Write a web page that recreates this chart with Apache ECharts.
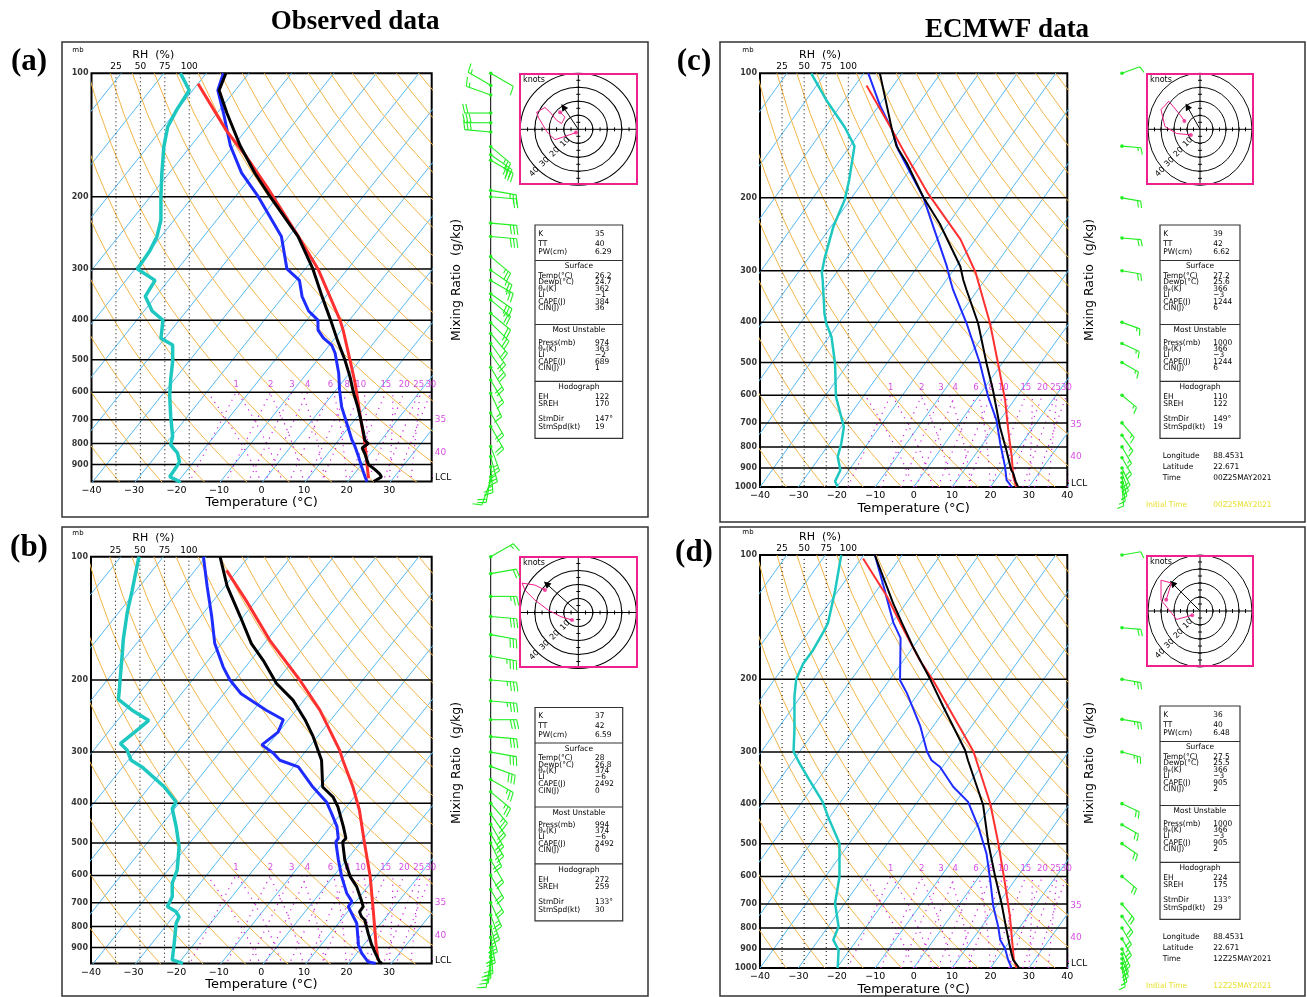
<!DOCTYPE html>
<html>
<head>
<meta charset="utf-8">
<script src="https://cdn.jsdelivr.net/npm/echarts@6/dist/echarts.min.js"></script>
<style>
  html, body { margin: 0; padding: 0; background: #fff; }
  #main { width: 1307px; height: 997px; }
</style>
</head>
<body>
<div id="main"></div>
<script>
// ---- shared chart constants ----
const SKEW = 77;          // isotherm skew, degC per decade of pressure
const RH_MAX = 348;       // RH (%) spanned by the full plot width
const obsPressLabels = [100, 200, 300, 400, 500, 600, 700, 800, 900];
const ecPressLabels = [100, 200, 300, 400, 500, 600, 700, 800, 900, 1000];
const mixRatios = [1, 2, 3, 4, 6, 8, 10, 15, 20, 25, 30];
const wetBulbThetas = [0, 5, 10, 15, 20, 25, 30, 35, 40];
const isobars = [200, 300, 400, 500, 600, 700, 800, 900];
const idxLabels = ['K', 'TT', 'PW(cm)', 'Temp(°C)', 'Dewp(°C)', 'θₑ(K)', 'LI', 'CAPE(J)', 'CIN(J)',
  'Press(mb)', 'θₑ(K)', 'LI', 'CAPE(J)', 'CIN(J)', 'EH', 'SREH', 'StmDir', 'StmSpd(kt)'];

// ---- (a) observed 00Z ----
const aTempP = [100, 110, 125, 150, 175, 200, 250, 300, 350, 400, 450, 500, 550, 600, 650, 700, 750, 785, 800, 820, 850, 900, 925, 950, 965, 990];
const aTemp = [-85.4, -83.8, -77.7, -68.5, -59.9, -51.8, -37.8, -28.2, -20.9, -14.4, -8.8, -3.6, 0.8, 4.5, 8.2, 11.4, 14.3, 16.2, 17.6, 17.0, 18.9, 21.6, 24.0, 26.1, 27.0, 26.0];
const aDewP = [100, 110, 125, 150, 175, 200, 250, 300, 320, 350, 380, 400, 423, 442, 460, 481, 538, 592, 650, 713, 784, 814, 861, 911, 964, 991];
const aDew = [-86, -84.1, -78.5, -70.8, -63.0, -54.6, -41.7, -34.3, -29.2, -25.6, -21.3, -17.4, -15.5, -12.8, -9.5, -7.2, -2.6, 0.8, 4.4, 8.7, 13.1, 15.1, 17.8, 20.4, 23.1, 24.5];
const aParcelP = [106, 138, 160, 189, 253, 300, 400, 423, 500, 570, 638, 714, 799, 894, 972];
const aParcel = [-90, -74.5, -64.8, -54.5, -37.0, -27.0, -12.2, -9.6, -2.4, 3.2, 7.7, 12.2, 16.8, 21.0, 24.2];
const aRhP = [100, 110, 123, 135, 151, 175, 200, 228, 250, 270, 300, 320, 350, 380, 400, 423, 443, 460, 504, 558, 612, 686, 769, 806, 844, 887, 911, 964, 982, 995];
const aRh = [91, 100, 87, 78, 74, 72, 71, 71, 67, 60, 47, 65, 55, 62, 73, 72, 71, 83, 83, 81, 80, 81, 83, 81, 88, 90, 87, 80, 87, 91];
const aWindP = [100, 107, 113, 125, 132, 139, 151, 158, 163, 193, 200, 232, 250, 280, 302, 320, 345, 357, 385, 406, 431, 456, 483, 521, 560, 603, 674, 727, 813, 861, 911, 964, 985];
const aWindDir = [120, 300, 290, 270, 270, 275, 130, 125, 120, 100, 95, 95, 95, 130, 125, 120, 125, 130, 130, 135, 140, 145, 145, 150, 150, 155, 150, 150, 160, 165, 175, 190, 200];
const aWindSpd = [10, 15, 15, 20, 30, 30, 25, 30, 30, 25, 20, 30, 30, 25, 25, 25, 30, 25, 20, 25, 20, 20, 20, 20, 15, 15, 20, 20, 25, 25, 25, 20, 10];
const aHodoU = [-1.6, -9.2, -16.1, -21.8, -27.6, -28.7, -23.0, -19.5, -14.9, -11.5, -9.2, -12.6];
const aHodoV = [-2.3, -5.1, -7.4, -1.6, 8.7, 12.2, 15.6, 12.2, 6.4, 4.1, 8.7, 12.2];
const aIdx = ['35', '40', '6.29', '26.2', '24.7', '362', '−1', '384', '36', '974', '363', '−2', '689', '1', '122', '170', '147°', '19'];
const aStorm = [147, 19];

// ---- (b) observed 12Z ----
const bTempP = [100, 118, 140, 163, 179, 204, 224, 250, 275, 314, 365, 386, 408, 456, 487, 497, 550, 604, 639, 689, 715, 736, 757, 771, 831, 887, 929, 975, 984];
const bTemp = [-86.7, -79.5, -70.7, -63.0, -57.1, -49.6, -42.6, -36.1, -31.0, -24.6, -19.3, -15.0, -12.0, -7.0, -4.2, -4.3, -0.4, 4.0, 7.4, 11.0, 12.7, 12.8, 14.2, 15.6, 18.9, 21.9, 24.3, 26.9, 27.8];
const bDewP = [100, 118, 140, 163, 186, 200, 216, 237, 250, 268, 288, 302, 314, 326, 365, 397, 423, 456, 487, 497, 550, 604, 663, 695, 715, 757, 785, 887, 929, 975, 984];
const bDew = [-90.6, -84.2, -77.4, -71.6, -65.2, -61.2, -56.0, -47.0, -41.2, -40.1, -41.5, -37.2, -34.4, -28.8, -21.6, -15.6, -12.3, -8.5, -6.0, -5.9, -1.9, 2.0, 6.3, 9.1, 9.2, 12.3, 14.3, 18.8, 21.1, 24.2, 26.3];
const bParcelP = [108, 128, 160, 200, 237, 297, 314, 365, 416, 502, 604, 729, 879, 965];
const bParcel = [-82.6, -72.3, -59.3, -44.8, -34.4, -22.2, -19.6, -12.2, -6.3, 1.2, 8.7, 15.7, 22.6, 26.2];
const bRhP = [100, 121, 137, 159, 172, 196, 211, 223, 237, 251, 263, 286, 297, 314, 326, 365, 397, 412, 456, 511, 582, 627, 676, 715, 736, 757, 785, 879, 965, 984];
const bRh = [49, 42, 37, 33, 32, 30, 29, 28, 42, 59, 49, 30, 37, 41, 52, 75, 87, 83, 87, 90, 88, 83, 83, 78, 87, 90, 87, 85, 83, 94];
const bWindP = [100, 110, 125, 140, 155, 175, 200, 225, 250, 275, 300, 325, 350, 375, 400, 425, 450, 475, 500, 550, 600, 650, 700, 750, 800, 850, 900, 925, 950, 975];
const bWindDir = [60, 80, 90, 95, 100, 100, 95, 95, 90, 95, 100, 110, 120, 130, 140, 145, 150, 150, 155, 150, 150, 150, 155, 160, 165, 170, 175, 180, 185, 190];
const bWindSpd = [15, 20, 25, 30, 30, 35, 35, 35, 30, 30, 30, 30, 25, 25, 25, 25, 25, 20, 20, 20, 20, 20, 25, 25, 25, 25, 20, 20, 15, 10];
const bHodoU = [-4.3, -12, -20.9, -29.9, -36.8, -38.8, -29.9, -23];
const bHodoV = [-5.4, -3, 1.8, 8.9, 16, 21, 19.6, 16];
const bIdx = ['37', '42', '6.59', '28', '26.8', '374', '−6', '2492', '0', '994', '374', '−6', '2492', '0', '272', '259', '133°', '30'];
const bStorm = [133, 30];

// ---- (c) ECMWF 00Z ----
const cTempP = [100, 137, 150, 165, 199, 231, 293, 316, 334, 402, 503, 583, 716, 815, 911, 927, 969, 1000];
const cTemp = [-85.8, -72.1, -67.9, -62.0, -51.5, -42.2, -28.9, -25.6, -22.9, -13.7, -4.0, 2.6, 11.3, 17.3, 22.3, 23.4, 25.5, 27.2];
const cDewP = [100, 120, 137, 153, 192, 199, 235, 293, 316, 334, 402, 503, 605, 689, 784, 893, 962, 1000];
const cDew = [-88.8, -79.6, -72.1, -66.8, -53.6, -51.5, -43.3, -32.4, -29.0, -26.4, -16.7, -5.7, 2.6, 9.1, 14.4, 20.0, 22.9, 25.6];
const cParcelP = [107, 137, 159, 194, 252, 303, 402, 503, 616, 728, 845, 944, 1000];
const cParcel = [-87.0, -72.1, -63.3, -51.3, -33.9, -23.8, -10.6, -1.0, 7.6, 14.0, 19.9, 24.0, 26.7];
const cRhP = [100, 116, 135, 150, 181, 202, 235, 281, 303, 316, 381, 402, 434, 503, 605, 677, 716, 786, 845, 911, 969, 1000];
const cRh = [58, 75, 96, 107, 101, 96, 83, 73, 70, 71, 73, 75, 81, 85, 86, 92, 95, 92, 88, 91, 85, 88];
const cWindP = [100, 150, 200, 250, 300, 400, 450, 500, 600, 700, 750, 800, 850, 900, 925, 950, 975, 1000];
const cWindDir = [70, 95, 100, 95, 100, 110, 115, 120, 130, 140, 145, 150, 150, 155, 160, 165, 170, 175];
const cWindSpd = [10, 15, 20, 20, 20, 15, 15, 15, 15, 15, 15, 15, 20, 20, 20, 15, 15, 10];
const cHodoU = [-7, -18, -27, -30, -24, -15, -12];
const cHodoV = [-4, -3, 2, 14, 20, 10, 6];
const cIdx = ['39', '42', '6.62', '27.2', '25.6', '366', '−3', '1244', '6', '1000', '366', '−3', '1244', '6', '110', '122', '149°', '19'];
const cStorm = [149, 19];
const cGeo = ['88.4531', '22.671', '00Z25MAY2021'];

// ---- (d) ECMWF 12Z ----
const dTempP = [100, 131, 146, 167, 200, 233, 297, 314, 403, 499, 601, 697, 809, 905, 956, 1000];
const dTemp = [-87.1, -73.3, -67.4, -60.0, -49.5, -41.0, -27.2, -24.6, -12.3, -3.8, 4.2, 10.8, 17.1, 21.9, 24.4, 27.5];
const dDewP = [100, 119, 146, 159, 201, 216, 260, 299, 314, 326, 364, 396, 455, 528, 612, 710, 794, 855, 896, 956, 1000];
const dDew = [-87.1, -79.0, -69.6, -64.9, -57.2, -53.0, -43.3, -36.9, -34.1, -30.6, -23.5, -16.8, -9.5, -2.4, 3.5, 9.3, 14.3, 17.3, 20.1, 23.1, 25.5];
const dParcelP = [102, 126, 149, 180, 201, 246, 299, 399, 499, 624, 751, 888, 956, 1000];
const dParcel = [-89.5, -76.2, -66.7, -55.7, -48.6, -36.5, -24.8, -10.8, -1.2, 8.0, 15.5, 21.8, 24.6, 26.8];
const dRhP = [100, 122, 146, 152, 170, 183, 200, 220, 265, 299, 314, 320, 351, 396, 430, 499, 601, 697, 794, 855, 905, 1000];
const dRh = [92, 85, 77, 73, 60, 49, 41, 39, 39, 38, 43, 45, 56, 71, 77, 90, 90, 85, 89, 83, 89, 88];
const dWindP = [100, 150, 200, 250, 300, 400, 450, 500, 600, 700, 750, 800, 850, 900, 925, 950, 975, 1000];
const dWindDir = [80, 95, 100, 100, 105, 115, 120, 125, 130, 140, 145, 150, 150, 155, 160, 160, 165, 170];
const dWindSpd = [10, 20, 25, 25, 25, 20, 20, 20, 20, 20, 20, 20, 25, 25, 20, 20, 15, 15];
const dHodoU = [-6, -18, -30, -30, -22, -26];
const dHodoV = [-3, -6, 8, 22, 20, 8];
const dIdx = ['36', '40', '6.48', '27.5', '25.5', '366', '−3', '905', '2', '1000', '366', '−3', '905', '2', '224', '175', '133°', '29'];
const dStorm = [133, 29];
const dGeo = ['88.4531', '22.671', '12Z25MAY2021'];

// ---- helpers ----
const FONT = '"DejaVu Sans", sans-serif';
const C_ISO = '#55b8f2', C_DRY = '#f3b548', C_MIX = '#cc22dd', C_GREEN = '#22ee22', C_PINK = '#f0208c';

function skewX(t, p) { return t + SKEW * Math.log10(1000 / p); }
function dryT(theta, p) { return theta * Math.pow(p / 1000, 0.2857) - 273.15; }
function dewFromMix(w, p) { const e = w * p / (622 + w); const l = Math.log(e / 6.112); return 243.5 * l / (17.67 - l); }
function profile(ps, ts) { return ps.map((p, i) => [skewX(ts[i], p), p]); }
// saturated (pseudo-adiabatic) lapse rate dT/dp in K per hPa
function moistLapse(T, p) {
  const es = 6.112 * Math.exp(17.67 * (T - 273.15) / (T - 29.65));
  const rs = 0.622 * es / (p - es);
  return ((287 * T + 2.5e6 * rs) / p) / (1004 + 2.5e6 * 2.5e6 * rs * 0.622 / (287 * T * T));
}
function moistAdiabat(tw, pTop) {
  const pts = [[skewX(tw, 1000), 1000]];
  let T = tw + 273.15;
  for (let p = 1000; p > pTop;) {
    const dp = -10;
    const k1 = moistLapse(T, p);
    const k2 = moistLapse(T + k1 * dp / 2, p + dp / 2);
    T += k2 * dp; p += dp;
    if (p % 20 === 0) pts.push([skewX(T - 273.15, p), p]);
  }
  return pts;
}
const BREAK = ['-', '-'];

const PANELS = [
  { P: [aTempP, aTemp, aDewP, aDew, aParcelP, aParcel, aRhP, aRh], W: [aWindP, aWindDir, aWindSpd], H: [aHodoU, aHodoV], idx: aIdx, storm: aStorm,
    left: 91.5, top: 73.3, width: 340.2, height: 408.2, pBottom: 990, show40: false, pLabels: obsPressLabels, nameGap: 14,
    frame: [62, 42, 586, 475], tag: ['(a)', 29, 62], barbX: 490.7, barbLine: true, barbLen: 26,
    hodo: { cx: 578.3, cy: 129.3, rx: 58, ry: 56, box: [520, 74, 117, 110] },
    box: { x: 535, y: 225, w: 87.7, valDx: 60 }, mixTitle: [457, 280], mb: [78, 55], rhTitle: [153.3, 55],
    lcl: 970, lw: 3, ml: [700, 840] },
  { P: [bTempP, bTemp, bDewP, bDew, bParcelP, bParcel, bRhP, bRh], W: [bWindP, bWindDir, bWindSpd], H: [bHodoU, bHodoV], idx: bIdx, storm: bStorm,
    left: 91, top: 556.7, width: 340.7, height: 406.9, pBottom: 985, show40: false, pLabels: obsPressLabels, nameGap: 14,
    frame: [62, 527, 586, 469], tag: ['(b)', 29, 548], barbX: 490.7, barbLine: true, barbLen: 26,
    hodo: { cx: 578.3, cy: 612.5, rx: 58, ry: 56, box: [520, 557, 117, 110] },
    box: { x: 535, y: 707.5, w: 87.7, valDx: 60 }, mixTitle: [457, 763], mb: [78, 538], rhTitle: [153.3, 538],
    lcl: 971, lw: 3, ml: [700, 840] },
  { P: [cTempP, cTemp, cDewP, cDew, cParcelP, cParcel, cRhP, cRh], W: [cWindP, cWindDir, cWindSpd], H: [cHodoU, cHodoV], idx: cIdx, storm: cStorm, geo: cGeo,
    left: 760, top: 73.3, width: 307.3, height: 413.7, pBottom: 1000, show40: true, pLabels: ecPressLabels, nameGap: 15,
    frame: [720, 42, 585, 480], tag: ['(c)', 694, 62], barbX: 1122, barbLine: false, barbLen: 19,
    hodo: { cx: 1200, cy: 129.3, rx: 52, ry: 56, box: [1147, 74, 106, 110] },
    box: { x: 1160, y: 225, w: 80, valDx: 53.3 }, mixTitle: [1090, 280], mb: [748, 55], rhTitle: [820, 55],
    lcl: 979, lw: 2, ml: [708, 845], geoY: 456, initY: 505 },
  { P: [dTempP, dTemp, dDewP, dDew, dParcelP, dParcel, dRhP, dRh], W: [dWindP, dWindDir, dWindSpd], H: [dHodoU, dHodoV], idx: dIdx, storm: dStorm, geo: dGeo,
    left: 760, top: 555, width: 307.3, height: 413, pBottom: 1000, show40: true, pLabels: ecPressLabels, nameGap: 15,
    frame: [720, 527, 585, 469], tag: ['(d)', 694, 553], barbX: 1122, barbLine: false, barbLen: 19,
    hodo: { cx: 1200, cy: 611, rx: 52, ry: 56, box: [1147, 556, 106, 110] },
    box: { x: 1160, y: 706, w: 80, valDx: 53.3 }, mixTitle: [1090, 763], mb: [748, 537], rhTitle: [820, 537],
    lcl: 974, lw: 2, ml: [708, 845], geoY: 937, initY: 986 }
];

const option = { animation: false, backgroundColor: '#fff', grid: [], xAxis: [], yAxis: [], series: [], graphic: [] };
const G = option.graphic;

function txt(text, x, y, font, fill, align, extra) {
  G.push(Object.assign({ type: 'text', x: x, y: y, silent: true,
    style: { text: text, font: font, fill: fill || '#000', align: align || 'left', verticalAlign: 'middle' } }, extra || {}));
}
function seg(x1, y1, x2, y2, color, w) {
  G.push({ type: 'line', silent: true, shape: { x1: x1, y1: y1, x2: x2, y2: y2 }, style: { stroke: color, lineWidth: w } });
}

function makeBarbRender(len) {
  return function (params, api) {
    const p = api.value(1), dir = api.value(2), spd = api.value(3);
    const o = api.coord([0.5, p]);
    const a = dir * Math.PI / 180;
    const dx = Math.sin(a), dy = -Math.cos(a);
    const nx = -dy, ny = dx;
    const fl = len * 0.35;
    const st = { stroke: C_GREEN, lineWidth: 1.1 };
    const kids = [{ type: 'line', shape: { x1: o[0], y1: o[1], x2: o[0] + dx * len, y2: o[1] + dy * len }, style: st }];
    let s = Math.round(spd / 5) * 5, pos = len;
    while (s >= 50) {
      const b = [o[0] + dx * pos, o[1] + dy * pos], b2 = [o[0] + dx * (pos - 4), o[1] + dy * (pos - 4)];
      kids.push({ type: 'polygon', shape: { points: [b, [b[0] + nx * fl, b[1] + ny * fl], b2] }, style: { fill: C_GREEN } });
      s -= 50; pos -= 6;
    }
    while (s >= 10) {
      const b = [o[0] + dx * pos, o[1] + dy * pos];
      kids.push({ type: 'line', shape: { x1: b[0], y1: b[1], x2: b[0] + nx * fl + dx * 2, y2: b[1] + ny * fl + dy * 2 }, style: st });
      s -= 10; pos -= 3.2;
    }
    if (s >= 5) {
      const b = [o[0] + dx * pos, o[1] + dy * pos];
      kids.push({ type: 'line', shape: { x1: b[0], y1: b[1], x2: b[0] + nx * fl / 2 + dx, y2: b[1] + ny * fl / 2 + dy }, style: st });
    }
    kids.push({ type: 'circle', shape: { cx: o[0], cy: o[1], r: 1.8 }, style: { fill: C_GREEN } });
    return { type: 'group', children: kids };
  };
}

function build(L) {
  const [tp, tv, dp, dv, pp, pv, rp, rv] = L.P;
  const g0 = option.grid.length;
  option.grid.push({ left: L.left, top: L.top, width: L.width, height: L.height, show: true,
    borderColor: '#000', borderWidth: 2, backgroundColor: 'rgba(0,0,0,0)' });
  option.grid.push({ left: L.barbX - 0.5, top: L.top, width: 1, height: L.height, show: false });
  const H = L.hodo;
  option.grid.push({ left: H.cx - H.rx, top: H.cy - H.ry, width: 2 * H.rx, height: 2 * H.ry, show: false });

  const xT = option.xAxis.length;
  option.xAxis.push({ gridIndex: g0, type: 'value', min: -40, max: 40, interval: 10, position: 'bottom',
    axisLine: { show: false }, axisTick: { show: false }, splitLine: { show: false },
    axisLabel: { fontFamily: FONT, fontSize: 9.5, color: '#000', margin: 4,
      formatter: v => (v === 40 && !L.show40) ? '' : (v < 0 ? '−' + (-v) : String(v)) },
    name: 'Temperature (°C)', nameLocation: 'middle', nameGap: L.nameGap,
    nameTextStyle: { fontFamily: FONT, fontSize: 13, color: '#000' } });
  option.xAxis.push({ gridIndex: g0, type: 'value', min: 0, max: RH_MAX, interval: 25, position: 'top',
    axisLine: { show: false }, axisTick: { show: false }, splitLine: { show: false },
    axisLabel: { fontFamily: FONT, fontSize: 9, color: '#000', margin: 2, formatter: v => (v > 0 && v <= 100) ? String(v) : '' } });
  option.xAxis.push({ gridIndex: g0 + 1, type: 'value', min: 0, max: 1, show: false });
  option.xAxis.push({ gridIndex: g0 + 2, type: 'value', min: -40, max: 40, show: false });
  const xR = xT + 1, xB = xT + 2, xH = xT + 3;

  const yP = option.yAxis.length;
  const logAxis = gi => ({ gridIndex: gi, type: 'log', logBase: 10, min: 100, max: L.pBottom, inverse: true,
    axisLine: { show: false }, axisTick: { show: false }, splitLine: { show: false }, axisLabel: { show: false } });
  option.yAxis.push(logAxis(g0));
  option.yAxis.push(Object.assign(logAxis(g0 + 1), { show: false }));
  option.yAxis.push({ gridIndex: g0 + 2, type: 'value', min: -40, max: 40, show: false });
  const yB = yP + 1, yH = yP + 2;

  const S = option.series;
  const base = { type: 'line', xAxisIndex: xT, yAxisIndex: yP, symbol: 'none', silent: true, clip: true };

  // isotherms
  const iso = [];
  for (let t = -160; t <= 40; t += 10) { iso.push([t, 1000], [t + SKEW, 100], BREAK); }
  S.push(Object.assign({}, base, { data: iso, lineStyle: { color: C_ISO, width: 1 }, z: 1 }));
  // dry adiabats
  const dry = [];
  for (let th = 230; th <= 480; th += 10) {
    for (let p = 1000; p >= 100; p -= 25) dry.push([skewX(dryT(th, p), p), p]);
    dry.push(BREAK);
  }
  S.push(Object.assign({}, base, { data: dry, lineStyle: { color: C_DRY, width: 1 }, z: 1 }));
  // mixing ratio lines and saturated adiabats, dotted, below 600 hPa
  const mix = [], mixTop = [];
  mixRatios.forEach(w => {
    for (let p = 1000; p >= 600; p -= 50) mix.push([skewX(dewFromMix(w, p), p), p]);
    mix.push(BREAK);
    mixTop.push([skewX(dewFromMix(w, 600), 600), 600, w]);
  });
  wetBulbThetas.forEach(tw => { moistAdiabat(tw, 600).forEach(pt => mix.push(pt)); mix.push(BREAK); });
  S.push(Object.assign({}, base, { data: mix, lineStyle: { color: C_MIX, width: 1.2, type: [1.2, 5] }, z: 1 }));
  S.push({ type: 'scatter', xAxisIndex: xT, yAxisIndex: yP, data: mixTop, symbolSize: 0, silent: true, clip: false,
    label: { show: true, position: 'top', distance: 3, formatter: d => d.value[2], color: C_MIX, fontFamily: FONT, fontSize: 8.5 } });
  S.push({ type: 'scatter', xAxisIndex: xT, yAxisIndex: yP, data: [[40, L.ml[0], '35'], [40, L.ml[1], '40']], symbolSize: 0, silent: true, clip: false,
    label: { show: true, position: 'right', distance: 3, formatter: d => d.value[2], color: C_MIX, fontFamily: FONT, fontSize: 9 } });
  // RH reference verticals
  const rhv = [];
  [25, 50, 75, 100].forEach(r => rhv.push([r, 100], [r, L.pBottom], BREAK));
  S.push(Object.assign({}, base, { xAxisIndex: xR, data: rhv, lineStyle: { color: '#000', width: 1, type: [1, 3] }, z: 1 }));
  // isobars
  const iso2 = [];
  isobars.forEach(p => iso2.push([-40, p], [40, p], BREAK));
  S.push(Object.assign({}, base, { data: iso2, lineStyle: { color: '#000', width: 1.5 }, z: 2 }));
  // pressure labels
  S.push({ type: 'scatter', xAxisIndex: xT, yAxisIndex: yP, data: L.pLabels.map(p => [-40, p]), symbolSize: 0, silent: true, clip: false,
    label: { show: true, position: 'left', distance: 3, formatter: d => d.value[1], color: '#000', fontFamily: FONT, fontSize: 8, fontWeight: 'bold' } });
  // profiles
  S.push(Object.assign({}, base, { xAxisIndex: xR, data: rp.map((p, i) => [rv[i], p]), lineStyle: { color: '#1ec8c0', width: L.lw + 0.5 }, z: 3 }));
  S.push(Object.assign({}, base, { data: profile(dp, dv), lineStyle: { color: '#1f2cff', width: L.lw }, z: 4 }));
  S.push(Object.assign({}, base, { data: profile(pp, pv), lineStyle: { color: '#ff3030', width: L.lw }, z: 4 }));
  S.push(Object.assign({}, base, { data: profile(tp, tv), lineStyle: { color: '#000', width: L.lw }, z: 5 }));
  // LCL marker
  S.push(Object.assign({}, base, { clip: false, data: [[40, L.lcl], [41.8, L.lcl]], lineStyle: { color: '#000', width: 1 },
    endLabel: { show: true, formatter: 'LCL', distance: 2, fontFamily: FONT, fontSize: 9, color: '#000' } }));

  // wind barbs
  const [wp, wd, ws] = L.W;
  S.push({ type: 'custom', xAxisIndex: xB, yAxisIndex: yB, silent: true, clip: false,
    data: wp.map((p, i) => [0.5, p, wd[i], ws[i]]), renderItem: makeBarbRender(L.barbLen), z: 6 });

  // hodograph
  const [hu, hv] = L.H;
  const su = L.storm[1] * Math.sin((L.storm[0] + 180) * Math.PI / 180);
  const sv = L.storm[1] * Math.cos((L.storm[0] + 180) * Math.PI / 180);
  S.push({ type: 'line', xAxisIndex: xH, yAxisIndex: yH, silent: true, symbol: 'none', clip: false,
    data: hu.map((u, i) => [u, hv[i]]), lineStyle: { color: C_PINK, width: 1 }, z: 6,
    markLine: { silent: true, symbol: ['none', 'triangle'], symbolSize: 7, label: { show: false },
      lineStyle: { color: '#000', width: 1, type: 'solid' }, data: [[{ coord: [0, 0] }, { coord: [su, sv] }]] } });
  S.push({ type: 'scatter', xAxisIndex: xH, yAxisIndex: yH, silent: true, symbolSize: 4,
    itemStyle: { color: C_PINK }, data: [[hu[0], hv[0]], [hu[hu.length - 1], hv[hv.length - 1]]], z: 7 });

  // ---- furniture drawn with graphic ----
  const f = L.frame;
  G.push({ type: 'rect', silent: true, shape: { x: f[0], y: f[1], width: f[2], height: f[3] }, style: { fill: 'none', stroke: '#333', lineWidth: 1.5 } });
  txt(L.tag[0], L.tag[1], L.tag[2], 'bold 31px "Liberation Serif"', '#000', 'center');
  txt('mb', L.mb[0], L.mb[1] - 5, '7px ' + FONT, '#000', 'center');
  txt('RH  (%)', L.rhTitle[0], L.rhTitle[1], '11px ' + FONT, '#000', 'center');
  txt('Mixing Ratio  (g/kg)', L.mixTitle[0], L.mixTitle[1], '12.5px ' + FONT, '#000', 'center', { rotation: Math.PI / 2 });
  if (L.barbLine) seg(L.barbX, L.top, L.barbX, L.top + L.height, '#000', 1);
  // hodograph rings / axes / box
  const b = H.box;
  const rings = [];
  [10, 20, 30, 40].forEach(k => rings.push({ type: 'circle', shape: { cx: 0, cy: 0, r: H.ry * k / 40 }, style: { fill: 'none', stroke: '#000', lineWidth: 1 } }));
  G.push({ type: 'group', silent: true, x: H.cx, y: H.cy, scaleX: H.rx / H.ry, children: rings });
  seg(b[0], H.cy, b[0] + b[2], H.cy, '#000', 1);
  seg(H.cx, b[1], H.cx, b[1] + b[3], '#000', 1);
  for (let k = -35; k <= 35; k += 5) {
    if (k === 0) continue;
    const tx = H.cx + H.rx * k / 40, ty = H.cy + H.ry * k / 40;
    seg(tx, H.cy - 2, tx, H.cy + 2, '#000', 1);
    seg(H.cx - 2, ty, H.cx + 2, ty, '#000', 1);
  }
  G.push({ type: 'rect', silent: true, shape: { x: b[0], y: b[1], width: b[2], height: b[3] }, style: { fill: 'none', stroke: C_PINK, lineWidth: 2 } });
  txt('knots', b[0] + 3, b[1] + 6, '8px ' + FONT, '#000', 'left');
  [10, 20, 30, 40].forEach(k => {
    const r = k / 40 * 0.7071;
    txt(String(k), H.cx - H.rx * r - 3, H.cy + H.ry * r + 3, '8px ' + FONT, '#000', 'center', { rotation: Math.PI / 4 });
  });

  // index box
  const B = L.box;
  const rows = [8.6, 18.5, 27, 50.8, 57, 63.6, 69.8, 76.7, 83.3, 117.5, 123.5, 129.8, 136.5, 142.8, 172, 179.2, 194.2, 202.2];
  const small = '7.8px ' + FONT, sq = { scaleX: 0.95 };
  G.push({ type: 'rect', silent: true, shape: { x: B.x, y: B.y, width: B.w, height: 213.3 }, style: { fill: '#fff', stroke: '#333', lineWidth: 1.2 } });
  [35.5, 99.5, 156.3].forEach(dy => seg(B.x, B.y + dy, B.x + B.w, B.y + dy, '#333', 1.2));
  txt('Surface', B.x + B.w / 2, B.y + 41, small, '#000', 'center', sq);
  txt('Most Unstable', B.x + B.w / 2, B.y + 105, small, '#000', 'center', sq);
  txt('Hodograph', B.x + B.w / 2, B.y + 162, small, '#000', 'center', sq);
  rows.forEach((dy, i) => {
    txt(idxLabels[i], B.x + 3.3, B.y + dy, small, '#000', 'left', sq);
    txt(L.idx[i], B.x + B.valDx, B.y + dy, small, '#000', 'left', sq);
  });
  if (L.geo) {
    ['Longitude', 'Latitude', 'Time'].forEach((t, i) => {
      txt(t, B.x + 2.7, L.geoY + i * 11, small, '#000', 'left', sq);
      txt(L.geo[i], B.x + B.valDx, L.geoY + i * 11, small, '#000', 'left', sq);
    });
    txt('Initial Time', B.x - 14, L.initY, small, '#e8e030', 'left', sq);
    txt(L.geo[2], B.x + B.valDx, L.initY, small, '#e8e030', 'left', sq);
  }
}

PANELS.forEach(build);
txt('Observed data', 355, 22, 'bold 27px "Liberation Serif"', '#000', 'center');
txt('ECMWF data', 1007, 30, 'bold 27px "Liberation Serif"', '#000', 'center');

const chart = echarts.init(document.getElementById('main'));
chart.setOption(option);
</script>
</body>
</html>
